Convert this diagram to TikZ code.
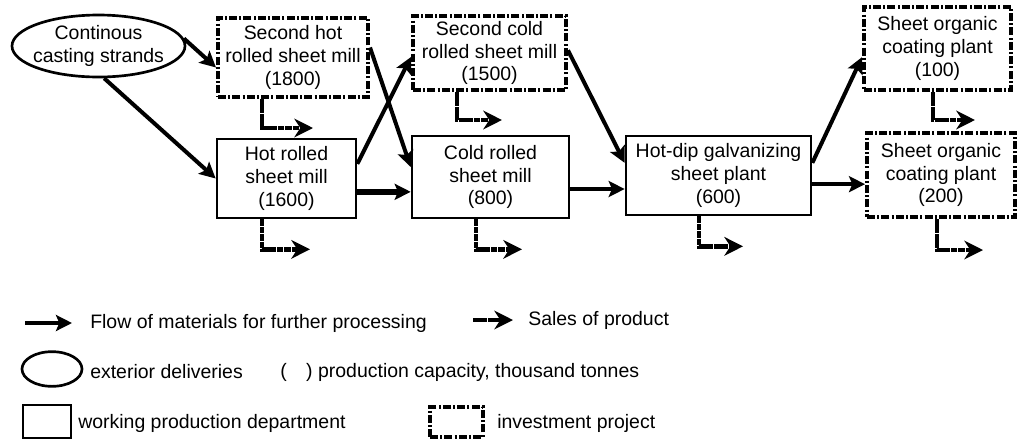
\documentclass[tikz,border=0pt]{standalone}
\usepackage{fontspec}
\setmainfont{Liberation Sans}
\usetikzlibrary{arrows.meta,shapes.geometric}
\tikzset{
	work/.style={draw, line width=2pt, inner sep=0pt, align=center},
	invest/.style={draw, line width=3pt, dash pattern=on 6pt off 1.6pt on 1.6pt off 1.6pt, inner sep=0pt, align=center},
	flow/.style={line width=3pt, -{Stealth[length=12pt,width=12pt,inset=2.5pt]}},
	sale/.style={line width=3.5pt, dash pattern=on 5pt off 0.6pt, -{Stealth[length=14pt,width=14pt,inset=4.5pt]}},
	legtext/.style={anchor=west, inner sep=0pt}
}
\begin{document}
\begin{tikzpicture}[x=0.75pt, y=-0.75pt, font=\fontsize{14.6}{17}\selectfont]
	\useasboundingbox (0,0) rectangle (1020,440);
	\node[ellipse, draw, line width=2pt, align=center, inner xsep=-3.5pt, inner ysep=0pt,
		minimum width=129.75pt, minimum height=46.5pt] (cast) at (98.5,46) {Continous\\casting strands};
	\node[invest, minimum width=112.5pt, minimum height=59.25pt] (shot) at (293,57.5) {Second hot\\rolled sheet mill\\(1800)};
	\node[invest, minimum width=114.75pt, minimum height=55.5pt] (scold) at (489.5,53) {Second cold\\rolled sheet mill\\(1500)};
	\node[invest, minimum width=110.25pt, minimum height=62.25pt] (orgA) at (937.5,48.5) {Sheet organic\\coating plant\\(100)};
	\node[invest, minimum width=111pt, minimum height=63pt] (orgB) at (941,175) {Sheet organic\\coating plant\\(200)};
	\node[work, minimum width=104.25pt, minimum height=59.25pt] (hot) at (286.5,178.5) {Hot rolled\\sheet mill\\(1600)};
	\node[work, minimum width=117.75pt, minimum height=61.5pt] (cold) at (490.5,177) {Cold rolled\\sheet mill\\(800)};
	\node[work, minimum width=138.75pt, minimum height=59.25pt] (galv) at (718.5,175.5) {Hot-dip galvanizing\\sheet plant\\(600)};

	\draw[flow] (cast.5) -- ([yshift=-7.5pt]shot.west);
	\draw[flow] (cast.-80) -- (hot.west);
	\draw[flow] ([yshift=7.5pt]shot.east) -- ([yshift=7.5pt]cold.west);
	\draw[flow] ([yshift=11pt]hot.east) -- ([yshift=-3pt]scold.west);
	\coordinate (hc) at ([yshift=-10pt]hot.east);
	\draw[flow, line width=4pt] (hc) -- (hc -| cold.west);
	\coordinate (cg) at ([yshift=-9pt]cold.east);
	\draw[flow] (cg) -- (cg -| galv.west);
	\draw[flow] ([yshift=2pt]scold.east) -- ([yshift=9.5pt]galv.west);
	\draw[flow] ([yshift=9.5pt]galv.east) -- ([yshift=-6.5pt]orgA.west);
	\coordinate (go) at ([yshift=-6.5pt]galv.east);
	\draw[flow] (go) -- (go -| orgB.west);

	\draw[sale] ([xshift=-23.25pt]shot.south) -- ++(0,29) -- ++(51,0);
	\draw[sale] ([xshift=-24.4pt]scold.south) -- ++(0,28) -- ++(45,0);
	\draw[sale] ([xshift=-3.4pt]orgA.south) -- ++(0,28) -- ++(42,0);
	\draw[sale] ([xshift=-18.4pt]hot.south) -- ++(0,30) -- ++(48,0);
	\draw[sale] ([xshift=-10.9pt]cold.south) -- ++(0,30) -- ++(46,0);
	\draw[sale] ([xshift=-14.6pt]galv.south) -- ++(0,30) -- ++(44,0);
	\draw[sale] ([xshift=-3pt]orgB.south) -- ++(0,31) -- ++(46,0);

	\coordinate (flowA) at (25,323);
	\coordinate (flowB) at (72,323);
	\draw[flow] (flowA) -- (flowB);
	\node[legtext] (flowtxt) at (90,323) {Flow of materials for further processing};
	\coordinate (saleA) at (473,320);
	\coordinate (saleB) at (513,320);
	\draw[sale] (saleA) -- (saleB);
	\node[legtext] (saletxt) at (528,320) {Sales of product};
	\node[ellipse, draw, line width=2pt, minimum width=45pt, minimum height=26pt] (legcast) at (52,369) {};
	\node[legtext] (casttxt) at (90,372) {exterior deliveries};
	\node[legtext] (captxt) at (280,372) {(\hspace{1em}) production capacity, thousand tonnes};
	\node[work, minimum width=36pt, minimum height=24.75pt] (legwork) at (47,421.5) {};
	\node[legtext] (worktxt) at (78,423) {working production department};
	\node[invest, minimum width=39.75pt, minimum height=22.5pt] (leginv) at (456.5,422) {};
	\node[legtext] (invtxt) at (497,423) {investment project};
\end{tikzpicture}
\end{document}
